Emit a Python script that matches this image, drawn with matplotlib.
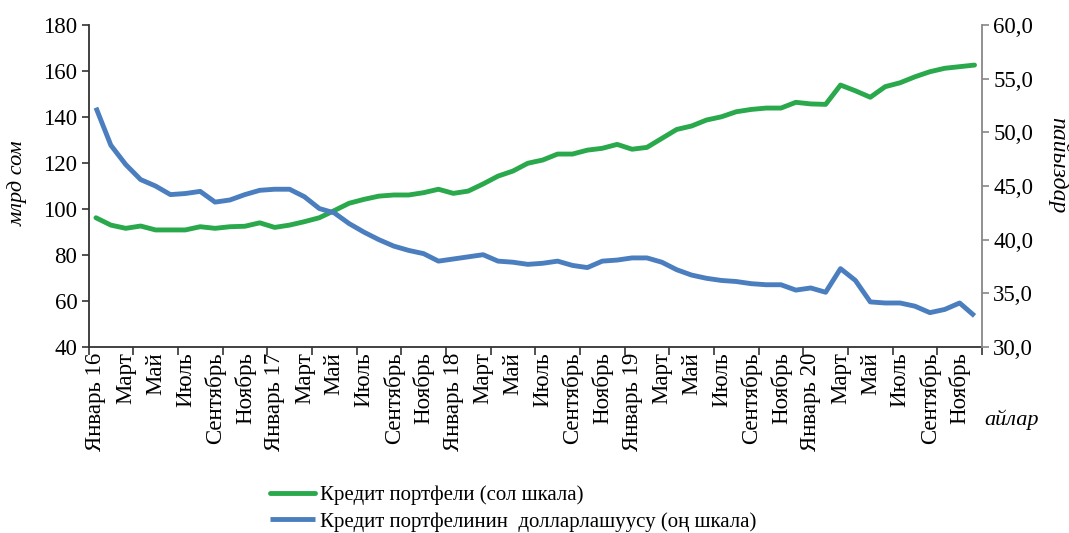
import matplotlib.pyplot as plt
from matplotlib.ticker import FuncFormatter

plt.rcParams['font.family'] = ['Liberation Serif', 'DejaVu Serif']

# Кредит портфели, млрд сом (сол шкала), январь 2016 - декабрь 2020
portfolio = [
    96.2, 93.0, 91.6, 92.6, 90.9, 90.9, 90.9, 92.3, 91.6, 92.3, 92.5, 94.0,
    92.0, 93.0, 94.5, 96.2, 99.3, 102.5, 104.2, 105.6, 106.1, 106.1, 107.1, 108.6,
    106.8, 107.8, 110.9, 114.3, 116.5, 119.9, 121.3, 123.9, 123.9, 125.6, 126.4, 128.1,
    126.0, 126.8, 130.7, 134.6, 136.1, 138.7, 140.1, 142.3, 143.3, 143.9, 143.9, 146.4,
    145.7, 145.5, 153.9, 151.4, 148.6, 153.2, 154.9, 157.5, 159.7, 161.2, 161.9, 162.6,
]

# Долларлашуу, % (оң шкала)
dollarization = [
    52.3, 48.8, 47.0, 45.6, 45.0, 44.2, 44.3, 44.5, 43.5, 43.7, 44.2, 44.6,
    44.7, 44.7, 44.0, 42.9, 42.5, 41.5, 40.7, 40.0, 39.4, 39.0, 38.7, 38.0,
    38.2, 38.4, 38.6, 38.0, 37.9, 37.7, 37.8, 38.0, 37.6, 37.4, 38.0, 38.1,
    38.3, 38.3, 37.9, 37.2, 36.7, 36.4, 36.2, 36.1, 35.9, 35.8, 35.8, 35.3,
    35.5, 35.1, 37.3, 36.2, 34.2, 34.1, 34.1, 33.8, 33.2, 33.5, 34.1, 32.9,
]

month_names = ["Январь", "Март", "Май", "Июль", "Сентябрь", "Ноябрь"]
years = ["16", "17", "18", "19", "20"]

tick_labels = []
for y in years:
    for m in month_names:
        tick_labels.append(m + " " + y if m == "Январь" else m)

legend_labels = ["Кредит портфели (сол шкала)",
                 "Кредит портфелинин  долларлашуусу (оң шкала)"]

green = "#2AA84C"
blue = "#4A7EBE"
fs = 16.5

x = list(range(len(portfolio)))

fig = plt.figure(figsize=(10.69, 5.33), dpi=100)
ax = fig.add_axes([0.0828, 0.349, 0.8358, 0.604])
ax2 = ax.twinx()

l1, = ax.plot(x, portfolio, color=green, lw=3.5, solid_capstyle="round",
              solid_joinstyle="round")
l2, = ax2.plot(x, dollarization, color=blue, lw=3.5, solid_capstyle="butt",
               solid_joinstyle="round")

ax.set_xlim(-0.5, len(x) - 0.5)
ax.set_ylim(40, 180)
ax.set_yticks(range(40, 181, 20))
ax2.set_ylim(30, 60)
ax2.set_yticks(range(30, 61, 5))
ax2.yaxis.set_major_formatter(FuncFormatter(lambda v, p: f"{v:.1f}".replace(".", ",")))

# штрихи между категориями каждые 3 месяца, подписи каждые 2 месяца
ax.set_xticks([i - 0.5 for i in range(0, len(x) + 1, 3)])
ax.set_xticklabels([])
ax.set_xticks(list(range(0, len(x), 2)), minor=True)
ax.set_xticklabels(tick_labels, minor=True, rotation=90, fontsize=fs)
ax.tick_params(axis="x", which="major", direction="out", length=6, width=1.2, color="#333333")
ax.tick_params(axis="x", which="minor", length=0, pad=4)

ax.tick_params(axis="y", direction="out", length=5, width=1.2, color="#333333",
               labelsize=fs, pad=3)
ax2.tick_params(axis="y", direction="out", length=5, width=1.2, color="#888888",
                labelsize=fs, pad=3)

ax.spines["top"].set_visible(False)
ax2.spines["top"].set_visible(False)
ax.spines["right"].set_visible(False)
ax2.spines["left"].set_visible(False)
ax2.spines["bottom"].set_visible(False)
ax.spines["left"].set_color("#333333")
ax.spines["left"].set_linewidth(1.3)
ax.spines["bottom"].set_color("#333333")
ax.spines["bottom"].set_linewidth(1.3)
ax2.spines["right"].set_color("#888888")
ax2.spines["right"].set_linewidth(1.3)

fig.text(18 / 1069, 1 - 183 / 533, "млрд сом", rotation=90, style="italic",
         fontsize=16, ha="center", va="center")
fig.text(1058 / 1069, 1 - 165 / 533, "пайыздар", rotation=270, style="italic",
         fontsize=17, ha="center", va="center")
fig.text(1012 / 1069, 1 - 420 / 533, "айлар", style="italic",
         fontsize=16, ha="center", va="center")

fig.legend([l1, l2], legend_labels, loc="center left",
           bbox_to_anchor=(257 / 1069, 1 - 508.5 / 533), frameon=False,
           fontsize=15, handlelength=2.2, handletextpad=0.2,
           labelspacing=0.33, borderpad=0.1)

fig.savefig("out.png", dpi=100)
